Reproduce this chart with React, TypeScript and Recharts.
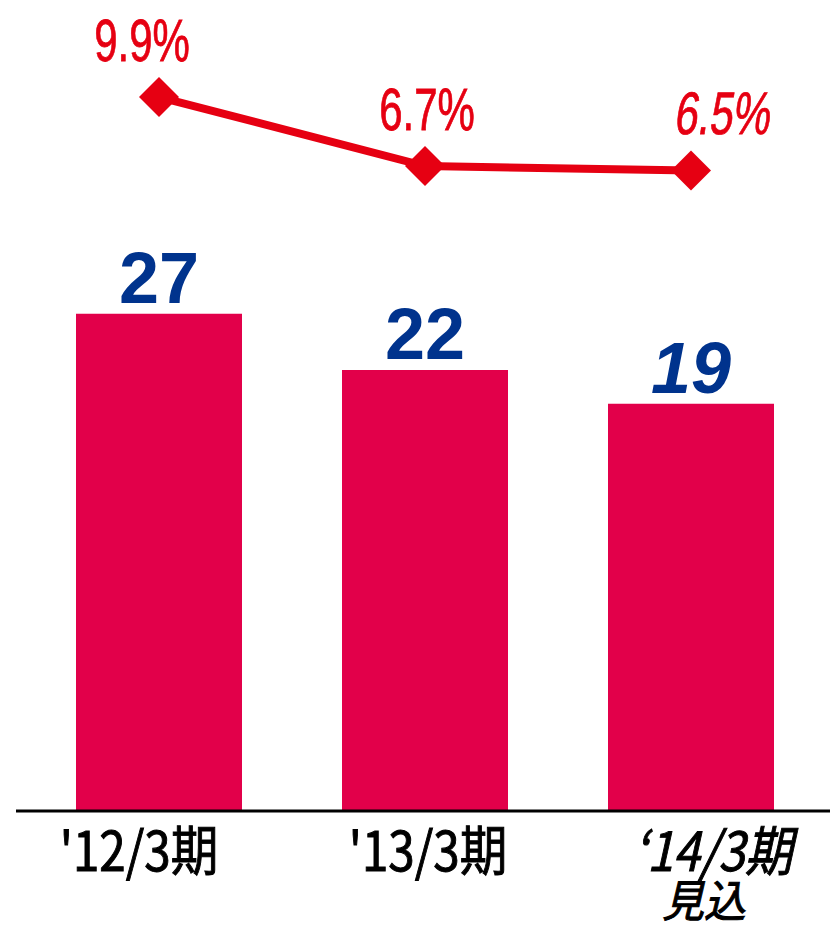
import { Bar, ComposedChart, LabelList, Line, XAxis, YAxis } from "recharts";

const categories = ["'12/3期", "'13/3期", "‘14/3期"];
const subLabels = ["", "", "見込"];
const salesValues = [27, 22, 19];
const ratioValues = [9.9, 6.7, 6.5];
const isForecast = [false, false, true];

// axis ranges (hidden) picked so the bars and line sit where the original has them
const BAR_DOMAIN: [number, number] = [-17.2, 54.9];
const LINE_DOMAIN: [number, number] = [-23.2, 14.4];

const BAR_COLOR = "#e2004a";
const LINE_COLOR = "#e60012";
const VALUE_COLOR = "#00338d";

const RATIO_LABEL_DX = [-17, 2, 30];
const TICK_DX = [-20, 3, 22];

const data = categories.map((name, i) => ({
  name,
  sub: subLabels[i],
  sales: salesValues[i],
  ratio: ratioValues[i],
  forecast: isForecast[i],
}));

function Diamond(props: any) {
  const { cx, cy } = props;
  if (cx == null || cy == null) return null;
  const r = 20;
  return (
    <polygon
      points={`${cx},${cy - r} ${cx + r},${cy} ${cx},${cy + r} ${cx - r},${cy}`}
      fill={LINE_COLOR}
    />
  );
}

function SalesLabel(props: any) {
  const { x, y, width, value, index } = props;
  return (
    <text
      x={x + width / 2}
      y={y - 11}
      textAnchor="middle"
      fill={VALUE_COLOR}
      fontFamily="'Liberation Sans', Arial, sans-serif"
      fontWeight={700}
      fontSize={72}
      fontStyle={isForecast[index] ? "italic" : "normal"}
    >
      {value}
    </text>
  );
}

function RatioLabel(props: any) {
  const { x, y, value, index } = props;
  const skew = isForecast[index] ? " skewX(-12)" : "";
  return (
    <text
      transform={`translate(${x + RATIO_LABEL_DX[index]}, ${y - 36}) scale(0.7, 1)${skew}`}
      textAnchor="middle"
      fill={LINE_COLOR}
      stroke={LINE_COLOR}
      strokeWidth={0.8}
      fontFamily="'Liberation Sans', Arial, sans-serif"
      fontSize={60}
    >
      {value.toFixed(1)}%
    </text>
  );
}

function CategoryTick(props: any) {
  const { x, y, payload, index } = props;
  const style = isForecast[index] ? "italic" : "normal";
  const cx = x + TICK_DX[index];
  return (
    <g>
      <text
        transform={`translate(${cx}, ${y + 52}) scale(0.88, 1)`}
        textAnchor="middle"
        fill="#000"
        stroke="#000"
        strokeWidth={1}
        fontFamily="'Noto Sans CJK JP', sans-serif"
        fontSize={54}
        fontStyle={style}
      >
        {payload.value}
      </text>
      {subLabels[index] ? (
        <text
          transform={`translate(${cx - 9}, ${y + 98}) scale(0.95, 1)`}
          textAnchor="middle"
          fill="#000"
          stroke="#000"
          strokeWidth={1}
          fontFamily="'Noto Sans CJK JP', sans-serif"
          fontSize={44}
          fontStyle={style}
        >
          {subLabels[index]}
        </text>
      ) : null}
    </g>
  );
}

export default function App() {
  return (
    <div>
      <style>{"body{margin:0;background:#fff}"}</style>
      <ComposedChart
        width={830}
        height={928}
        data={data}
        margin={{ top: 0, right: 0, left: 16, bottom: 17 }}
        barCategoryGap={50}
      >
        <XAxis
          dataKey="name"
          axisLine={{ stroke: "#000", strokeWidth: 3 }}
          tickLine={false}
          height={100}
          padding={{ left: 10, right: 6 }}
          interval={0}
          tick={<CategoryTick />}
        />
        <YAxis yAxisId="bar" hide domain={BAR_DOMAIN} allowDataOverflow />
        <YAxis yAxisId="line" hide orientation="right" domain={LINE_DOMAIN} allowDataOverflow />
        <Bar
          yAxisId="bar"
          dataKey={(d: any) => [BAR_DOMAIN[0], d.sales]}
          fill={BAR_COLOR}
          barSize={166}
          isAnimationActive={false}
        >
          <LabelList dataKey="sales" content={<SalesLabel />} />
        </Bar>
        <Line
          yAxisId="line"
          dataKey="ratio"
          stroke={LINE_COLOR}
          strokeWidth={8}
          dot={<Diamond />}
          activeDot={false}
          isAnimationActive={false}
        >
          <LabelList dataKey="ratio" content={<RatioLabel />} />
        </Line>
      </ComposedChart>
    </div>
  );
}
